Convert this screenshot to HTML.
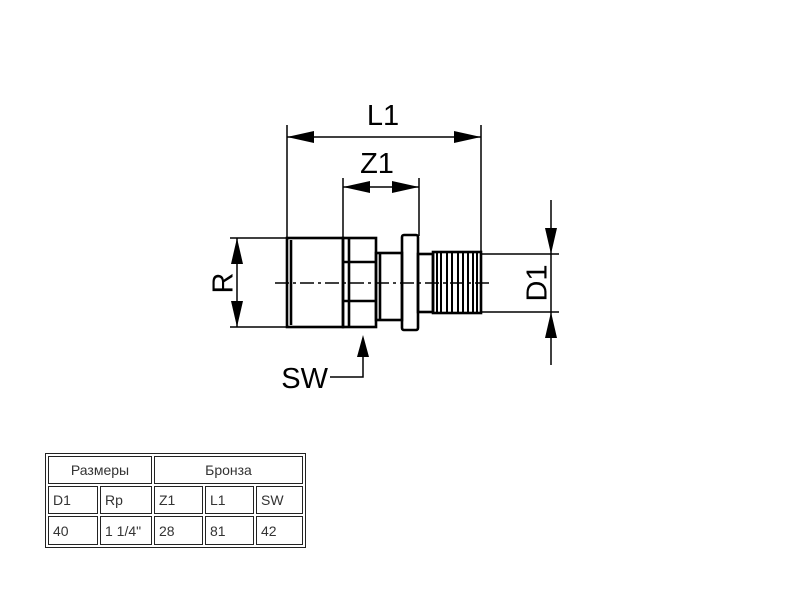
<!DOCTYPE html>
<html><head><meta charset="utf-8"><style>
body{margin:0;background:#fff;width:800px;height:600px;overflow:hidden;position:relative;font-family:"Liberation Sans",sans-serif}
.c{position:absolute;border:1px solid #222;box-sizing:border-box;font-size:14px;color:#333;padding-left:4px;display:flex;align-items:center}
.ctr{justify-content:center;padding-left:0}
</style></head><body>
<svg width="800" height="600" style="position:absolute;left:0;top:0" font-family="Liberation Sans, sans-serif">
<g stroke="#000" fill="none">
<line x1="287" y1="125" x2="287" y2="238" stroke-width="1.5"/>
<line x1="481" y1="125" x2="481" y2="253" stroke-width="1.5"/>
<line x1="343" y1="178" x2="343" y2="238" stroke-width="1.5"/>
<line x1="419" y1="178" x2="419" y2="236" stroke-width="1.5"/>
<line x1="287" y1="137" x2="481" y2="137" stroke-width="1.5"/>
<line x1="343" y1="187" x2="419" y2="187" stroke-width="1.5"/>
<line x1="230" y1="238" x2="287" y2="238" stroke-width="1.5"/>
<line x1="230" y1="327" x2="287" y2="327" stroke-width="1.5"/>
<line x1="237" y1="238" x2="237" y2="327" stroke-width="1.5"/>
<line x1="481" y1="254" x2="559" y2="254" stroke-width="1.5"/>
<line x1="481" y1="312" x2="559" y2="312" stroke-width="1.5"/>
<line x1="551" y1="200" x2="551" y2="365" stroke-width="1.5"/>
<polyline points="363,340 363,377 330,377" stroke-width="1.5"/>
<g stroke-width="2.6">
<rect x="287" y="238" width="56" height="89"/>
<line x1="291" y1="240" x2="291" y2="325"/>
<rect x="343" y="238" width="33" height="89"/>
<line x1="343" y1="262" x2="376" y2="262"/>
<line x1="343" y1="301" x2="376" y2="301"/>
<line x1="349" y1="238" x2="349" y2="327"/>
<rect x="376" y="253" width="26" height="67"/>
<line x1="380" y1="253" x2="380" y2="320"/>
<rect x="402" y="235" width="16" height="95" rx="2"/>
<rect x="418" y="254" width="15" height="58"/>
<rect x="433" y="252" width="48" height="61"/>
</g>
<g stroke-width="2">
<line x1="437" y1="252" x2="437" y2="313"/>
<line x1="441" y1="252" x2="441" y2="313"/>
<line x1="447" y1="252" x2="447" y2="313"/>
<line x1="452" y1="252" x2="452" y2="313"/>
<line x1="458" y1="252" x2="458" y2="313"/>
<line x1="463" y1="252" x2="463" y2="313"/>
<line x1="468" y1="252" x2="468" y2="313"/>
<line x1="473" y1="252" x2="473" y2="313"/>
<line x1="477" y1="252" x2="477" y2="313"/>
</g>
<line x1="275" y1="283" x2="493" y2="283" stroke-width="1.5" stroke-dasharray="14,4,3,4"/>
</g>
<g fill="#000">
<polygon points="287,137 314,131 314,143"/>
<polygon points="481,137 454,131 454,143"/>
<polygon points="343,187 370,181 370,193"/>
<polygon points="419,187 392,181 392,193"/>
<polygon points="237,238 231,264 243,264"/>
<polygon points="237,327 231,301 243,301"/>
<polygon points="551,254 545,228 557,228"/>
<polygon points="551,312 545,338 557,338"/>
<polygon points="363,335 357,357 369,357"/>
</g>
<g font-size="29" fill="#000" text-anchor="middle">
<text x="383" y="125">L1</text>
<text x="377" y="173">Z1</text>
<text x="328" y="388" text-anchor="end">SW</text>
<text transform="translate(223,283) rotate(-90)" dominant-baseline="middle" y="2">R</text>
<text transform="translate(537,283) rotate(-90)" dominant-baseline="middle" y="2">D1</text>
</g>
</svg>
<div style="position:absolute;left:45px;top:453px;width:261px;height:95px;border:1px solid #222;box-sizing:border-box"></div>
<div class="c ctr" style="left:48px;top:456px;width:104px;height:28px">Размеры</div>
<div class="c ctr" style="left:154px;top:456px;width:149px;height:28px">Бронза</div>
<div class="c" style="left:48px;top:486px;width:50px;height:28px">D1</div>
<div class="c" style="left:100px;top:486px;width:52px;height:28px">Rp</div>
<div class="c" style="left:154px;top:486px;width:49px;height:28px">Z1</div>
<div class="c" style="left:205px;top:486px;width:49px;height:28px">L1</div>
<div class="c" style="left:256px;top:486px;width:47px;height:28px">SW</div>
<div class="c" style="left:48px;top:516px;width:50px;height:29px">40</div>
<div class="c" style="left:100px;top:516px;width:52px;height:29px">1 1/4"</div>
<div class="c" style="left:154px;top:516px;width:49px;height:29px">28</div>
<div class="c" style="left:205px;top:516px;width:49px;height:29px">81</div>
<div class="c" style="left:256px;top:516px;width:47px;height:29px">42</div>
</body></html>
